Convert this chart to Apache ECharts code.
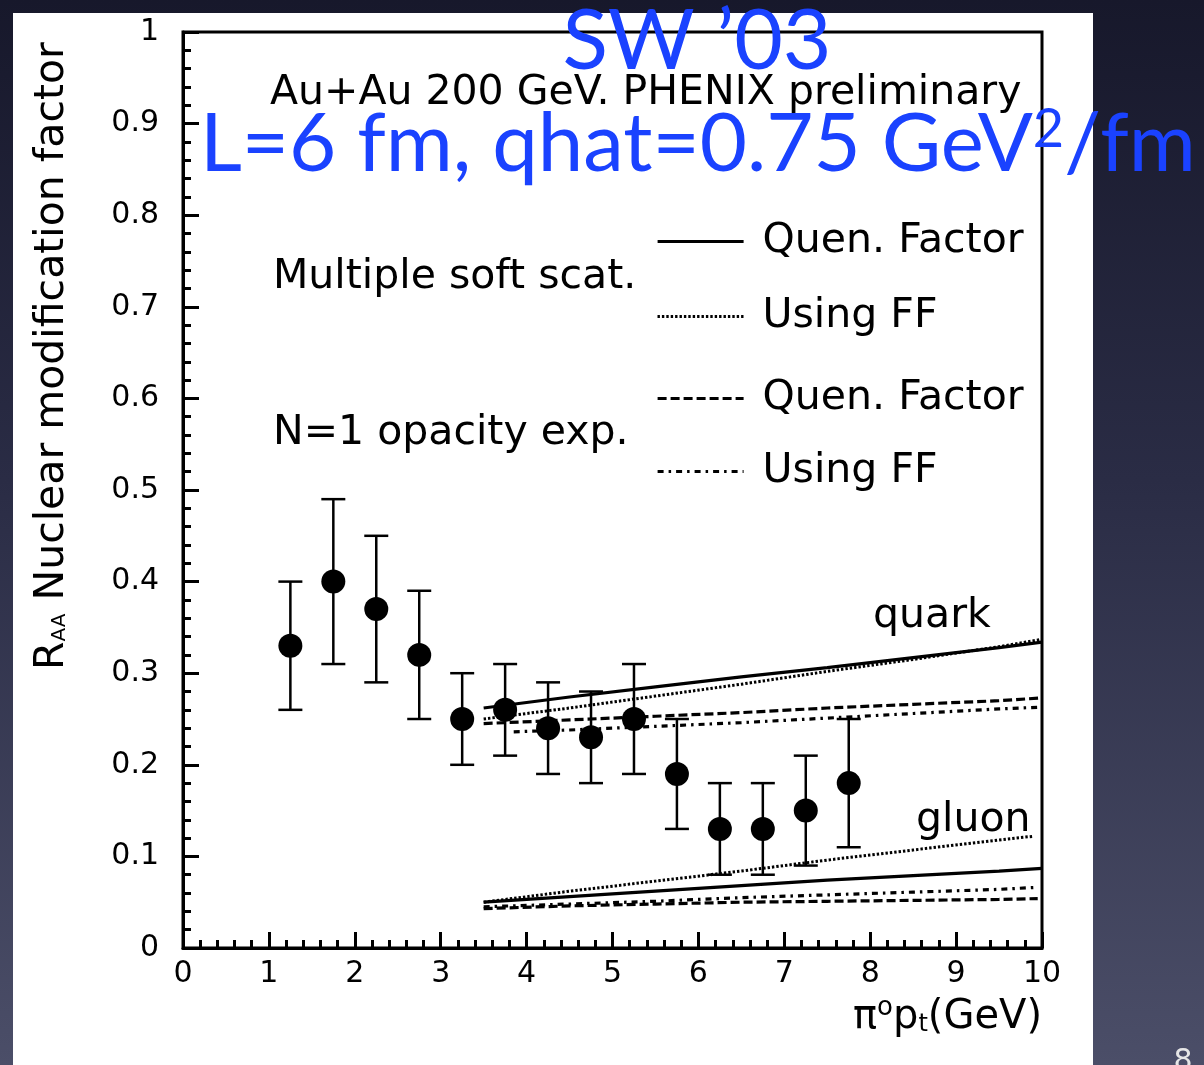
<!DOCTYPE html>
<html><head><meta charset="utf-8">
<script src="https://cdn.jsdelivr.net/npm/echarts@6/dist/echarts.min.js"></script>
<style>
html,body{margin:0;padding:0;}
body{width:1204px;height:1065px;overflow:hidden;background:linear-gradient(to bottom,#17182b 0%,#2a2c45 45%,#4b4e68 100%);}
#wrap{position:relative;width:1204px;height:1065px;}
#panel{position:absolute;left:13px;top:13px;width:1080px;height:1060px;background:#fff;}
#c{position:absolute;left:0;top:0;width:1204px;height:1065px;}
</style>
</head><body><div id="wrap"><div id="panel"></div><div id="c"></div></div>
<script>
// ---- data: PHENIX preliminary pi0 R_AA ----
const ptX     = [1.25, 1.75, 2.25, 2.75, 3.25, 3.75, 4.25, 4.75, 5.25, 5.75, 6.25, 6.75, 7.25, 7.75];
const raa     = [0.33, 0.40, 0.37, 0.32, 0.25, 0.26, 0.24, 0.23, 0.25, 0.19, 0.13, 0.13, 0.15, 0.18];
const errLow  = [0.26, 0.31, 0.29, 0.25, 0.20, 0.21, 0.19, 0.18, 0.19, 0.13, 0.08, 0.08, 0.09, 0.11];
const errHigh = [0.40, 0.49, 0.45, 0.39, 0.30, 0.31, 0.29, 0.28, 0.31, 0.25, 0.18, 0.18, 0.21, 0.25];

// ---- theory curves ----
const curveX        = [3.5, 4.5, 5.5, 6.5, 7.5, 8.5, 9.5, 10];
const quarkSolid    = [0.262, 0.274, 0.285, 0.296, 0.306, 0.317, 0.328, 0.334];
const quarkDotted   = [0.250, 0.262, 0.275, 0.288, 0.302, 0.315, 0.329, 0.337];
const quarkDashed   = [0.245, 0.249, 0.253, 0.257, 0.262, 0.266, 0.270, 0.273];
const quarkDashDotX = [3.85, 4.5, 5.5, 6.5, 7.5, 8.5, 9.5, 10];
const quarkDashDot  = [0.236, 0.238, 0.242, 0.246, 0.251, 0.256, 0.261, 0.263];
const gluonSolid    = [0.050, 0.056, 0.062, 0.068, 0.074, 0.079, 0.084, 0.087];
const gluonDottedX  = [3.5, 4.5, 5.5, 6.5, 7.5, 8.5, 9.5, 9.9];
const gluonDotted   = [0.050, 0.062, 0.073, 0.084, 0.096, 0.107, 0.118, 0.122];
const gluonDashedX  = [3.5, 4.5, 5.5, 6.5, 7.5, 8.5, 9.5, 9.95];
const gluonDashed   = [0.043, 0.046, 0.048, 0.050, 0.051, 0.052, 0.053, 0.054];
const gluonDashDotX = [3.5, 4.5, 5.5, 6.5, 7.5, 8.5, 9.5, 9.9];
const gluonDashDot  = [0.045, 0.048, 0.051, 0.055, 0.058, 0.061, 0.064, 0.066];

const seriesNames  = ['Quen. Factor (MS)', 'Using FF (MS)', 'Quen. Factor (N1)', 'Using FF (N1)'];
const legendLabels = ['Quen. Factor', 'Using FF', 'Quen. Factor', 'Using FF'];

const fontB = 'DejaVu Sans';
const blue = '#1a42ff';
const pairs = (xs, ys) => xs.map((x, i) => [x, ys[i]]);

const styles = [
  {type: 'solid', width: 3.2},
  {type: [2.4, 2], width: 3},
  {type: [9, 4], width: 3.2},
  {type: [6, 5, 2.5, 5], width: 3.2}
];
function lineSeries(nameIdx, data) {
  return {
    name: seriesNames[nameIdx], type: 'line', data: data, symbol: 'none', showSymbol: false, smooth: false,
    lineStyle: {color: '#000', width: styles[nameIdx].width, type: styles[nameIdx].type, cap: 'butt'},
    itemStyle: {color: '#000'}, z: 3, silent: true
  };
}

const legendTops = [221, 296, 378, 451];

const chart = echarts.init(document.getElementById('c'), null, {renderer: 'canvas'});
const axisCommon = {
  axisLine: {show: true, onZero: false, lineStyle: {color: '#000', width: 3}},
  axisTick: {show: true, inside: true, length: 16, lineStyle: {color: '#000', width: 3}},
  minorTick: {show: true, splitNumber: 5, length: 8, lineStyle: {color: '#000', width: 3}},
  splitLine: {show: false},
  minorSplitLine: {show: false}
};
const txt = (t, left, top) => ({type: 'text', left: left, top: top, z: 10,
  style: {text: t, font: '41px "DejaVu Sans"', fill: '#000'}});
const option = {
  backgroundColor: 'transparent',
  animation: false,
  grid: {left: 183, top: 32, width: 859, height: 916, show: true, borderColor: '#000', borderWidth: 3, backgroundColor: 'transparent'},
  xAxis: Object.assign({type: 'value', min: 0, max: 10, interval: 1,
    axisLabel: {color: '#000', fontSize: 30, fontFamily: fontB, margin: 11}}, axisCommon),
  yAxis: Object.assign({type: 'value', min: 0, max: 1, interval: 0.1,
    axisLabel: {color: '#000', fontSize: 30, fontFamily: fontB, margin: 24}}, axisCommon),
  legend: seriesNames.map((n, i) => ({
    data: [n], left: 656, top: legendTops[i], orient: 'horizontal',
    itemWidth: 86, itemHeight: 20, padding: 0, selectedMode: false,
    itemStyle: {opacity: 0, borderWidth: 0},
    lineStyle: {width: styles[i].width, color: '#000', type: styles[i].type},
    formatter: () => legendLabels[i],
    textStyle: {fontSize: 41, fontFamily: fontB, color: '#000', padding: [0, 0, 0, 14]}
  })),
  series: [
    lineSeries(0, pairs(curveX, quarkSolid)),
    lineSeries(1, pairs(curveX, quarkDotted)),
    lineSeries(2, pairs(curveX, quarkDashed)),
    lineSeries(3, pairs(quarkDashDotX, quarkDashDot)),
    lineSeries(0, pairs(curveX, gluonSolid)),
    lineSeries(1, pairs(gluonDottedX, gluonDotted)),
    lineSeries(2, pairs(gluonDashedX, gluonDashed)),
    lineSeries(3, pairs(gluonDashDotX, gluonDashDot)),
    {
      name: 'errors', type: 'custom', z: 4, silent: true,
      data: ptX.map((x, i) => [x, errLow[i], errHigh[i]]),
      encode: {x: 0, y: [1, 2]},
      renderItem: function (params, api) {
        const x = api.value(0);
        const pLo = api.coord([x, api.value(1)]);
        const pHi = api.coord([x, api.value(2)]);
        const hw = 12;
        const st = {stroke: '#000', lineWidth: 2.5, fill: null};
        return {type: 'group', children: [
          {type: 'line', shape: {x1: pLo[0], y1: pLo[1], x2: pHi[0], y2: pHi[1]}, style: st},
          {type: 'line', shape: {x1: pLo[0] - hw, y1: pLo[1], x2: pLo[0] + hw, y2: pLo[1]}, style: st},
          {type: 'line', shape: {x1: pHi[0] - hw, y1: pHi[1], x2: pHi[0] + hw, y2: pHi[1]}, style: st}
        ]};
      }
    },
    {
      name: 'PHENIX', type: 'scatter', z: 5, silent: true,
      data: pairs(ptX, raa), symbol: 'circle', symbolSize: 24,
      itemStyle: {color: '#000', opacity: 1}
    }
  ],
  graphic: [
    txt('Au+Au 200 GeV. PHENIX preliminary', 270, 73),
    txt('Multiple soft scat.', 273, 257),
    txt('N=1 opacity exp.', 273, 413),
    txt('quark', 873, 596),
    txt('gluon', 916, 800),
    {type: 'text', x: 697, y: 42, style: {text: 'SW \u201903', font: '84px Lato', fill: blue, textAlign: 'center', textVerticalAlign: 'middle'}, z: 20},
    {type: 'text', x: 200, y: 145, style: {
      text: '{b|L=6 fm, qhat=0.75 GeV}{s|2}{b|/fm}',
      textVerticalAlign: 'middle', textAlign: 'left',
      rich: {
        b: {fontSize: 81.5, fontFamily: 'Lato', fill: blue, color: blue},
        s: {fontSize: 54, fontFamily: 'Lato', fill: blue, color: blue, padding: [0, 0, 30, 0]}
      }}, z: 20},
    {type: 'text', x: 1042, y: 1018, style: {
      text: '{a|\u03c0}{sup|o}{a|p}{sub|t}{a|(GeV)}', textAlign: 'right', textVerticalAlign: 'middle',
      rich: {
        a: {fontSize: 40, fontFamily: fontB, color: '#000'},
        sup: {fontSize: 26, fontFamily: fontB, color: '#000', padding: [0, 0, 20, 0]},
        sub: {fontSize: 24, fontFamily: fontB, color: '#000', padding: [14, 0, 0, 0]}
      }}, z: 10},
    {type: 'text', x: 52, y: 356, rotation: Math.PI / 2, style: {
      text: '{a|R}{s|AA}{a| Nuclear modification factor}', textAlign: 'center', textVerticalAlign: 'middle',
      rich: {
        a: {fontSize: 41, fontFamily: fontB, color: '#000'},
        s: {fontSize: 20, fontFamily: fontB, color: '#000', padding: [16, 0, 0, 0]}
      }}, z: 10},
    {type: 'text', x: 1183, y: 1062, style: {text: '8', font: '30px "DejaVu Sans"', fill: '#e6e6e6', textAlign: 'center', textVerticalAlign: 'middle'}, z: 10}
  ]
};
chart.setOption(option);
</script>
</body></html>
